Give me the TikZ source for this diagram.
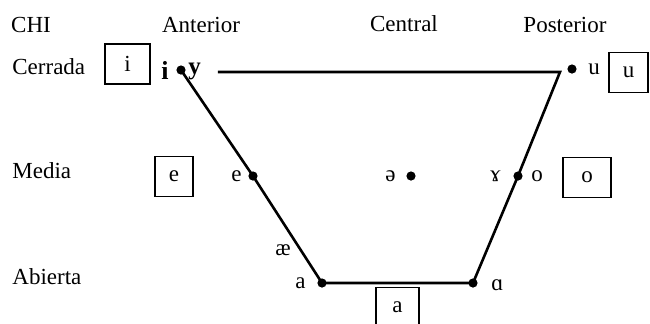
\documentclass[tikz,border=0pt]{standalone}
\usepackage{fontspec}
\setmainfont{Liberation Serif}
\usetikzlibrary{positioning, calc}

\tikzset{
  vowel/.style={circle, fill=black, inner sep=0pt, minimum size=4.6pt},
  sym/.style={inner sep=0pt},
  phonbox/.style={draw, line width=0.7pt, inner sep=0pt, minimum height=20pt},
  edge/.style={line width=1.3pt, line join=miter}
}

\begin{document}
\begin{tikzpicture}[x=0.5pt, y=-0.5pt, font=\fontsize{11.5}{13}\selectfont]
    \useasboundingbox (0,0) rectangle (650,323);
    \clip (0,0) rectangle (650,323);

    % column and row headings
    \node (chi) at (31,25) {CHI};
    \node (ant) at (201,25) {Anterior};
    \node (cen) at (404,24) {Central};
    \node (pos) at (565,25) {Posterior};
    \foreach \name/\y/\txt in {cer/67/Cerrada, med/171/Media, abi/277/Abierta} {
      \node[anchor=west, inner sep=0pt] (\name) at (12,\y) {\txt};
    }

    % vowel points
    \node[vowel] (iDot) at (181,70) {};
    \node[vowel] (uDot) at (572,69) {};
    \node[vowel] (eDot) at (253,176) {};
    \node[vowel] (schwaDot) at (411,176) {};
    \node[vowel] (oDot) at (518,176) {};
    \node[vowel] (aDot) at (322,283) {};
    \node[vowel] (backaDot) at (473,283) {};
    \coordinate (topL) at (218,72);
    \coordinate (topR) at (560,72);

    % trapezoid
    \draw[edge] (topL) -- (topR) -- (oDot.center) -- (backaDot.center)
      -- (aDot.center) -- (eDot.center) -- (iDot.center);

    % symbols next to the points
    \node[sym, left=3.5pt of iDot, font=\fontsize{13}{15}\selectfont\bfseries] (iSym) {i};
    \node[sym, right=1pt of iDot, yshift=-0.5pt, font=\fontsize{12.5}{15}\selectfont\bfseries] (ySym) {y};
    \node[sym, right=5.5pt of uDot] (uSym) {u};
    \node[sym, left=3pt of eDot] (eSym) {e};
    \node[sym, left=5pt of schwaDot] (schwaSym) {ə};
    \node[sym, left=6pt of oDot] (gamSym) {ɤ};
    \node[sym, right=4pt of oDot] (oSym) {o};
    \node[sym, left=5.5pt of aDot] (aSym) {a};
    \node[sym, right=6.5pt of backaDot, yshift=-1pt] (backaSym) {ɑ};
    \node[sym] (aeSym) at (283,250) {æ};

    % boxed phonemes
    \node[phonbox, minimum width=22.5pt] (boxI) at (127.5,64) {i};
    \node[phonbox, minimum width=19.5pt] (boxU) at (628.5,72.5) {u};
    \node[phonbox, minimum width=19pt] (boxE) at (174,176.5) {e};
    \node[phonbox, minimum width=24pt] (boxO) at (587,177.5) {o};
    \node[phonbox, minimum width=21.5pt] (boxA) at (397.5,307.5) {a};
  \end{tikzpicture}
\end{document}
